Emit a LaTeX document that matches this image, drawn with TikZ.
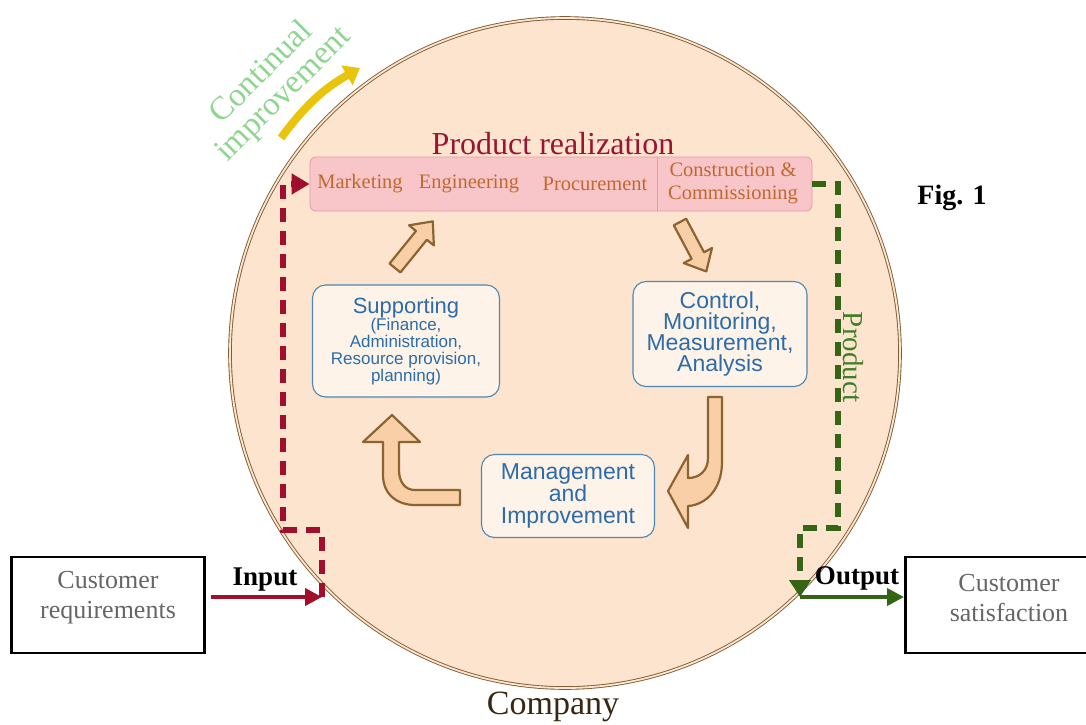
\documentclass[tikz,border=0pt]{standalone}
\usepackage{fontspec}
\setmainfont{Liberation Serif}
\setsansfont{Liberation Sans}
\usetikzlibrary{arrows.meta, positioning, calc}
\definecolor{peach}{HTML}{FDE4CE}
\definecolor{rimbrown}{HTML}{7E5E36}
\definecolor{realpink}{HTML}{F8C6C8}
\definecolor{realedge}{HTML}{E49AA6}
\definecolor{realtext}{HTML}{C0682E}
\definecolor{realtitle}{HTML}{9C1232}
\definecolor{qblue}{HTML}{4C88B4}
\definecolor{qtext}{HTML}{2C6CA8}
\definecolor{arrfill}{HTML}{F8CFA6}
\definecolor{arredge}{HTML}{8C6432}
\definecolor{inred}{HTML}{A0102C}
\definecolor{outgreen}{HTML}{356414}
\definecolor{prodgreen}{HTML}{3F7F2A}
\definecolor{contgreen}{HTML}{8ED690}
\definecolor{loopyellow}{HTML}{E8C40C}

% straight block arrow: tail x, tail y, angle, length
\newcommand{\fatarrow}[4]{%
  \draw[blockarr, shift={(#1,#2)}, rotate=#3]
    (0,-7) -- (#4-18,-7) -- (#4-18,-16) -- (#4,0) -- (#4-18,16) -- (#4-18,7) -- (0,7) -- cycle;}

\begin{document}
\begin{tikzpicture}[x=1pt, y=-1pt, font=\sffamily,
  bluebox/.style={draw=qblue, line width=1.1pt, rounded corners=13pt, fill=white!55!peach, text=qtext, align=center, inner sep=2pt},
  realword/.style={text=realtext, font=\rmfamily\fontsize{20.5}{23}\selectfont},
  custbox/.style={draw=black, line width=2.5pt, fill=white},
  custtext/.style={text=black!60, align=center, font=\rmfamily\fontsize{26}{30}\selectfont},
  blockarr/.style={draw=arredge, line width=2.2pt, fill=arrfill, line join=round},
  flowlab/.style={font=\rmfamily\bfseries\fontsize{27}{27}\selectfont, text=black},
  dashline/.style={line width=5.5pt, dash pattern=on 14pt off 9pt}]

  \useasboundingbox (0,0) rectangle (1086,724);

  % the company
  \node[circle, minimum size=670pt, fill=peach, draw=rimbrown, double=peach, double distance=1.8pt, line width=0.9pt] (company) at (565,353) {};
  \node[text=black!70!brown, font=\rmfamily\fontsize{34}{34}\selectfont] (compname) at (553,707) {Company};

  % continual improvement
  \node[rotate=45, align=center, text=contgreen, font=\rmfamily\fontsize{33}{31}\selectfont] (contimp) at (273,84) {Continual\\improvement};
  \coordinate (ystart) at (281,138);
  \coordinate (yend) at (360,68);
  \draw[loopyellow, line width=8pt, -{Triangle[length=15pt,width=22pt]}] (ystart) to[bend left=12] (yend);

  % product realization
  \node[draw=realedge, fill=realpink, rounded corners=6pt, minimum width=502pt, minimum height=54pt, line width=0.8pt] (real) at (561,184) {};
  \coordinate (divider) at (657,184);
  \draw[realedge, line width=0.6pt] (divider |- real.north) -- (divider |- real.south);
  \node[text=realtitle, font=\rmfamily\fontsize{32}{32}\selectfont] (realtitle) at (553,144) {Product realization};
  \foreach \w/\x in {Marketing/360, Engineering/469, Procurement/595}
    \node[realword] (\w) at (\x,184) {\w};
  \node[realword, align=center] (constr) at (733,183) {Construction \&\\Commissioning};

  % process boxes
  \node[bluebox, minimum width=187pt, minimum height=112pt, font=\sffamily\fontsize{17}{17}\selectfont] (supp) at (406,341)
    {{\fontsize{22}{22}\selectfont Supporting}\\(Finance,\\Administration,\\Resource provision,\\planning)};
  \node[bluebox, minimum width=174pt, minimum height=105pt, font=\sffamily\fontsize{23}{18.5}\selectfont] (ctrl) at (720,334)
    {Control,\\Monitoring,\\Measurement,\\Analysis};
  \node[bluebox, minimum width=173pt, minimum height=83pt, font=\sffamily\fontsize{23}{22}\selectfont] (mgmt) at (568,496)
    {Management\\and\\Improvement};

  % cycle arrows
  \fatarrow{395}{268}{51}{60}
  \fatarrow{680}{222}{-62}{56}
  \draw[blockarr] (708,397) -- (722,397) -- (722,462) .. controls (722,490) and (705,505) .. (688,506)
    -- (688,528) -- (668,491) -- (688,455) -- (688,478) .. controls (700,478) and (708,470) .. (708,458) -- cycle;
  \draw[blockarr] (460,490) -- (415,490) .. controls (405,490) and (399,482) .. (399,470) -- (399,442)
    -- (420,442) -- (392,415) -- (363,442) -- (383,442) -- (383,475) .. controls (383,495) and (398,505) .. (415,505)
    -- (460,505) -- cycle;

  % customers
  \node[custbox, minimum width=193pt, minimum height=96pt] (custreq) at (108,605) {};
  \node[custtext] (reqtext) at ([yshift=7pt]custreq.center) {Customer\\requirements};
  \node[custbox, minimum width=190pt, minimum height=96pt, anchor=west] (custsat) at (904,605) {};
  \node[custtext] (sattext) at (1009,598) {Customer\\satisfaction};

  % input side
  \coordinate (inpt) at (322,597);
  \coordinate (rbend) at (283,530);
  \draw[inred, line width=4pt, shorten <=5pt, -{Triangle[length=17pt,width=17pt]}] (custreq.east |- inpt) -- (inpt);
  \node[flowlab] (inlab) at (265,580) {Input};
  \draw[inred, dashline, -{Triangle[length=18pt,width=20pt]}] (inpt) -- (inpt |- rbend) -- (rbend) -- (rbend |- real.west) -- (real.west);

  % output side
  \coordinate (outpt) at (800,597);
  \coordinate (gbend) at (838,528);
  \draw[outgreen, dashline, -{Triangle[length=17pt,width=21pt]}] (real.east) -- (real.east -| gbend) -- (gbend) -- (gbend -| outpt) -- (outpt);
  \draw[outgreen, line width=4pt, -{Triangle[length=17pt,width=17pt]}] (outpt) -- (custsat.west |- outpt);
  \node[flowlab] (outlab) at (857,578) {Output};
  \node[rotate=-90, text=prodgreen, font=\rmfamily\fontsize{29}{29}\selectfont] (prodlab) at (853,357) {Product};

  \node[font=\rmfamily\bfseries\fontsize{28}{28}\selectfont] (fig) at (952,198) {Fig. 1};
\end{tikzpicture}
\end{document}
